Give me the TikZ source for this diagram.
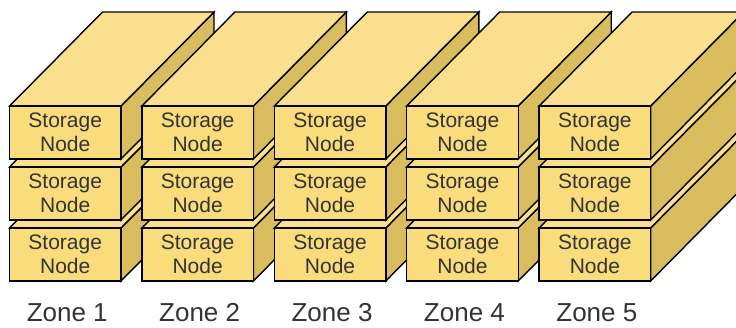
\documentclass[tikz,border=0pt]{standalone}
\usepackage{fontspec}
\setmainfont{Liberation Sans}
\definecolor{frontc}{HTML}{F9DC7C}
\definecolor{topc}{HTML}{FADF8E}
\definecolor{sidec}{HTML}{D8BC5E}
\definecolor{txtc}{HTML}{333333}
\begin{document}
\begin{tikzpicture}[x=1pt,y=-1pt,
  face/.style={draw=black,line width=1.4pt,line join=miter},
  lbl/.style={font=\fontsize{21}{24}\selectfont, text=txtc, align=center, inner sep=0pt},
  zonelbl/.style={font=\fontsize{26}{28}\selectfont, text=txtc, anchor=base, inner sep=0pt}]
\useasboundingbox (0,0) rectangle (736,327);
\begin{scope}
\clip (0,0) rectangle (736,327);
\foreach \i in {0,...,4}{
  \foreach \r in {2,1,0}{
    \pgfmathsetmacro\xl{9.5+132.4*\i}
    \pgfmathsetmacro\xr{\xl+111.5}
    \pgfmathsetmacro\xc{\xl+55.75}
    \pgfmathsetmacro\yt{106+61*\r}
    \pgfmathsetmacro\yb{\yt+53}
    \pgfmathsetmacro\ym{\yt+26.5}
    % side face
    \draw[face,fill=sidec] (\xr,\yt) -- ++(93,-94) -- ++(0,53) -- (\xr,\yb) -- cycle;
    % top face
    \draw[face,fill=topc] (\xl,\yt) -- ++(93,-94) -- ++(111.5,0) -- (\xr,\yt) -- cycle;
    % front face
    \draw[face,fill=frontc] (\xl,\yt) rectangle (\xr,\yb);
    \node[lbl] (s\i\r) at (\xc,\ym) {Storage\\Node};
  }
}
\end{scope}
\foreach \i in {0,...,4}{
  \pgfmathsetmacro\xc{9.5+132.4*\i+55.75+2}
  \pgfmathtruncatemacro\j{\i+1}
  \node[zonelbl] (z\i) at (\xc,321) {Zone \j};
}
\end{tikzpicture}
\end{document}
